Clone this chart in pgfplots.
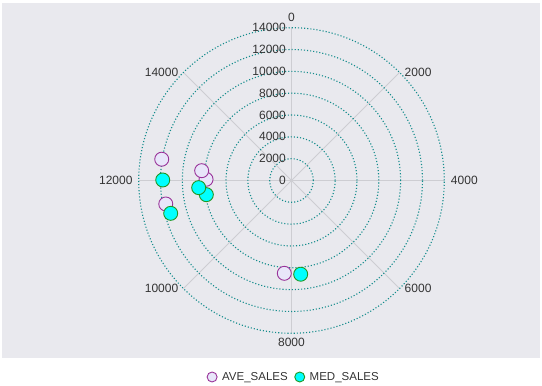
\documentclass[border=0pt]{standalone}
\usepackage{fontspec}
\setmainfont{Liberation Sans}
\usepackage{pgfplots}
\pgfplotsset{compat=1.18}
\usepackage{pgfplotstable}
\definecolor{bgc}{RGB}{233,233,238}
\definecolor{gridc}{RGB}{20,140,140}
\definecolor{spoke}{RGB}{205,205,210}
\definecolor{txt}{RGB}{51,51,51}
\definecolor{avefill}{RGB}{232,230,250}
\definecolor{avedraw}{RGB}{153,51,153}
\definecolor{medfill}{RGB}{0,255,255}
\definecolor{meddraw}{RGB}{34,150,34}

% a = angular value (0..16000, clockwise from top), r = radial value
\pgfplotstableread{
a r
12036 7830
12277 8280
12414 12050
11530 11720
8197 8530
}\ave
\pgfplotstableread{
a r
12010 11800
11324 11470
11580 7910
11804 8530
7751 8630
}\med

\begin{document}
\begin{tikzpicture}[x=1pt,y=1pt]
\path (0,0) rectangle (542,384);
\fill[bgc] (2,26) rectangle (540,381);
\begin{axis}[
  at={(291.5pt,203.5pt)}, anchor=center,
  scale only axis, width=305.6pt, height=305.6pt,
  xmin=-14000, xmax=14000, ymin=-14000, ymax=14000,
  hide axis, clip=false,
  legend columns=2,
  legend style={at={(0.508,-0.143)}, anchor=center, draw=none, fill=none,
    font=\fontsize{11.5}{13}\selectfont, text=txt,
    /tikz/every even column/.append style={column sep=5pt}},
  legend image code/.code={\path[draw=none,fill=none] (-1pt,0pt) -- (12pt,0pt); \draw[#1, mark size=5pt] plot coordinates {(4pt,0pt)};},
]
% spokes
\pgfplotsinvokeforeach{0,45,90,135,180,225,270,315}{
  \draw[spoke, line width=0.8pt] (axis cs:0,0) -- (axis cs:{14000*sin(#1)},{14000*cos(#1)});
}
% grid circles
\pgfplotsinvokeforeach{2000,4000,6000,8000,10000,12000,14000}{
  \draw[gridc, line width=1.1pt, dash pattern=on 1.1pt off 2pt] (axis cs:0,0) circle[radius=#1];
}
% radial labels
\pgfplotsinvokeforeach{0,2000,4000,6000,8000,10000,12000,14000}{
  \node[anchor=east, inner sep=0pt, xshift=-5.5pt, text=txt, font=\fontsize{12}{14}\selectfont] at (axis cs:0,#1) {#1};
}
% angular labels
\begin{scope}[every node/.style={inner sep=0pt, text=txt, font=\fontsize{12}{14}\selectfont}]
\node[anchor=south, yshift=6pt] at (axis cs:0,14000) {0};
\node[anchor=west, xshift=5pt] at (axis cs:9899,9899) {2000};
\node[anchor=west, xshift=6.5pt] at (axis cs:14000,0) {4000};
\node[anchor=west, xshift=5pt] at (axis cs:9899,-9899) {6000};
\node[anchor=north, yshift=-5pt] at (axis cs:0,-14000) {8000};
\node[anchor=east, xshift=-5pt] at (axis cs:-9899,-9899) {10000};
\node[anchor=east, xshift=-6pt] at (axis cs:-14000,0) {12000};
\node[anchor=east, xshift=-5pt] at (axis cs:-9899,9899) {14000};
\end{scope}
\addplot[only marks, mark=*, mark size=7pt, line width=0.9pt, draw=avedraw, fill=avefill]
  table[x expr={\thisrow{r}*sin(0.0225*\thisrow{a})}, y expr={\thisrow{r}*cos(0.0225*\thisrow{a})}] {\ave};
\addlegendentry{AVE\_SALES}
\addplot[only marks, mark=*, mark size=7pt, line width=0.9pt, draw=meddraw, fill=medfill]
  table[x expr={\thisrow{r}*sin(0.0225*\thisrow{a})}, y expr={\thisrow{r}*cos(0.0225*\thisrow{a})}] {\med};
\addlegendentry{MED\_SALES}
\end{axis}
\end{tikzpicture}
\end{document}
